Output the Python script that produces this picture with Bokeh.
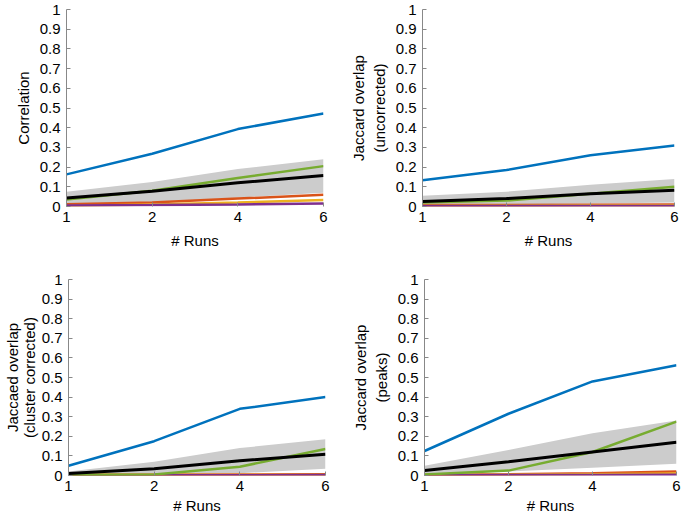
from bokeh.plotting import figure
from bokeh.layouts import row, column
from bokeh.models import FixedTicker, CustomJSTickFormatter, Range1d
from bokeh.embed import file_html
from bokeh.resources import INLINE

# ---- data ----
runs = [1, 2, 4, 6]            # x tick labels (equally spaced)
y_ticks = [0, 0.1, 0.2, 0.3, 0.4, 0.5, 0.6, 0.7, 0.8, 0.9, 1.0]

# Panel A: Correlation
a_blue = [0.163, 0.268, 0.393, 0.472]
a_green = [0.035, 0.080, 0.145, 0.205]
a_red = [0.012, 0.020, 0.040, 0.060]
a_yellow = [0.003, 0.010, 0.020, 0.033]
a_purple = [0.005, 0.007, 0.010, 0.015]
a_mean = [0.043, 0.078, 0.120, 0.157]
a_upper = [0.075, 0.125, 0.190, 0.240]
a_lower = [0.005, 0.022, 0.045, 0.070]

# Panel B: Jaccard overlap (uncorrected)
b_blue = [0.133, 0.185, 0.260, 0.310]
b_green = [0.020, 0.030, 0.065, 0.100]
b_red = [0.008, 0.008, 0.009, 0.010]
b_yellow = [0.004, 0.004, 0.005, 0.005]
b_purple = [0.002, 0.002, 0.002, 0.003]
b_mean = [0.025, 0.040, 0.065, 0.082]
b_upper = [0.055, 0.075, 0.110, 0.140]
b_lower = [0.005, 0.010, 0.015, 0.020]

# Panel C: Jaccaed overlap (cluster corrected)
c_blue = [0.050, 0.175, 0.340, 0.400]
c_green = [0.003, 0.005, 0.045, 0.135]
c_red = [0.004, 0.004, 0.005, 0.006]
c_yellow = [0.002, 0.002, 0.003, 0.003]
c_purple = [0.001, 0.001, 0.001, 0.002]
c_mean = [0.010, 0.035, 0.075, 0.108]
c_upper = [0.020, 0.070, 0.140, 0.185]
c_lower = [0.000, 0.005, 0.012, 0.035]

# Panel D: Jaccard overlap (peaks)
d_blue = [0.125, 0.315, 0.480, 0.563]
d_green = [0.005, 0.025, 0.120, 0.275]
d_red = [0.003, 0.006, 0.012, 0.020]
d_yellow = [0.002, 0.004, 0.007, 0.010]
d_purple = [0.001, 0.002, 0.003, 0.004]
d_mean = [0.025, 0.070, 0.120, 0.170]
d_upper = [0.050, 0.130, 0.215, 0.280]
d_lower = [0.005, 0.020, 0.040, 0.060]

ylabels = ["Correlation",
           "Jaccard overlap\n(uncorrected)",
           "Jaccaed overlap\n(cluster corrected)",
           "Jaccard overlap\n(peaks)"]

BLUE = "#0072BD"
RED = "#D95319"
YELLOW = "#EDB120"
PURPLE = "#7E2F8E"
GREEN = "#77AC30"
FONT = "Liberation Sans"

positions = list(range(1, len(runs) + 1))


def make_panel(label, blue, green, red, yellow, purple, mean, upper, lower,
               bl, br, bt, bb, fw, fh, xstand, ystand=5, ylh=1.2):
    p = figure(frame_width=fw, frame_height=fh, output_backend="svg",
               toolbar_location=None, min_border_left=bl, min_border_right=br,
               min_border_top=bt, min_border_bottom=bb,
               x_range=Range1d(1, len(runs)), y_range=Range1d(0, 1))
    p.outline_line_color = None
    p.xgrid.visible = False
    p.ygrid.visible = False
    p.background_fill_color = "white"

    p.varea(x=positions, y1=lower, y2=upper, fill_color="#cccccc")
    for ys, col in [(red, RED), (yellow, YELLOW), (purple, PURPLE),
                    (green, GREEN), (blue, BLUE)]:
        p.line(positions, ys, line_color=col, line_width=2.5)
    p.line(positions, mean, line_color="black", line_width=3)

    p.xaxis.ticker = FixedTicker(ticks=positions)
    p.xaxis.major_label_overrides = {pos: str(r) for pos, r in zip(positions, runs)}
    p.yaxis.ticker = FixedTicker(ticks=y_ticks)
    p.yaxis.formatter = CustomJSTickFormatter(
        code="return String(Math.round(tick*10)/10);")
    for ax in (p.xaxis, p.yaxis):
        ax.major_tick_in = 4
        ax.major_tick_out = 0
        ax.minor_tick_line_color = None
        ax.major_tick_line_color = "#888888"
        ax.major_label_text_font = FONT
        ax.major_label_text_font_size = "15px"
        ax.major_label_text_color = "black"
        ax.axis_label_text_font = FONT
        ax.axis_label_text_font_size = "15px"
        ax.axis_label_text_font_style = "normal"
        ax.axis_label_text_color = "black"
    p.yaxis.axis_label_text_line_height = ylh
    p.yaxis.axis_line_color = "#888888"
    p.xaxis.axis_line_color = None
    p.xaxis.axis_label = "# Runs"
    p.yaxis.axis_label = label
    p.xaxis.major_label_standoff = 5
    p.xaxis.axis_label_standoff = xstand
    p.yaxis.major_label_standoff = 6
    p.yaxis.axis_label_standoff = ystand
    return p


p1 = make_panel(ylabels[0], a_blue, a_green, a_red, a_yellow, a_purple,
                a_mean, a_upper, a_lower, 66, 15, 9, 53, 257, 197, 7)
p2 = make_panel(ylabels[1], b_blue, b_green, b_red, b_yellow, b_purple,
                b_mean, b_upper, b_lower, 84, 8, 9, 53, 252, 197, 7)
p3 = make_panel(ylabels[2], c_blue, c_green, c_red, c_yellow, c_purple,
                c_mean, c_upper, c_lower, 66, 15, 20, 40, 257, 196, 3,
                ystand=1, ylh=1.0)
p4 = make_panel(ylabels[3], d_blue, d_green, d_red, d_yellow, d_purple,
                d_mean, d_upper, d_lower, 84, 8, 20, 40, 252, 196, 3)

layout = column(row(p1, p2), row(p3, p4))
open("out.html", "w").write(file_html(layout, INLINE))
